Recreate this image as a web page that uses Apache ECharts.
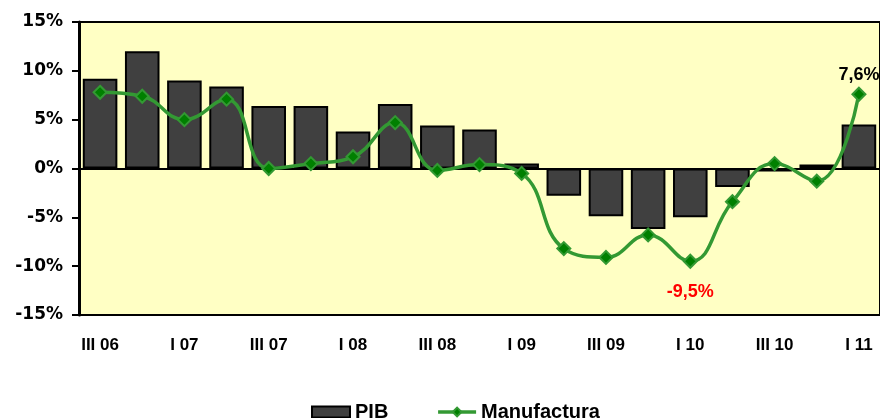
<!DOCTYPE html>
<html>
<head>
<meta charset="utf-8">
<script src="https://cdn.jsdelivr.net/npm/echarts@6/dist/echarts.min.js"></script>
<style>html,body{margin:0;padding:0;background:#fff}#c{width:880px;height:418px}</style>
</head>
<body>
<div id="c"></div>
<script>
var categories = ['III 06','IV 06','I 07','II 07','III 07','IV 07','I 08','II 08','III 08','IV 08','I 09','II 09','III 09','IV 09','I 10','II 10','III 10','IV 10','I 11'];
var pib = [9.2, 12.0, 9.0, 8.4, 6.4, 6.4, 3.8, 6.6, 4.4, 4.0, 0.5, -2.8, -4.9, -6.2, -5.0, -1.9, -0.3, 0.4, 4.5];
var manufactura = [7.8, 7.4, 5.0, 7.1, 0.0, 0.5, 1.2, 4.7, -0.2, 0.4, -0.5, -8.2, -9.1, -6.8, -9.5, -3.4, 0.5, -1.3, 7.6];
var yTicks = [-15, -10, -5, 0, 5, 10, 15];

var chart = echarts.init(document.getElementById('c'));
function fmt(p) { return String(p.value).replace('.', ',') + '%'; }
var minVal = Math.min.apply(null, manufactura);
var lineData = manufactura.map(function (v, i) {
  var d = { value: v };
  if (i === manufactura.length - 1) {
    d.label = { show: true, position: 'top', distance: 3, color: '#000', formatter: fmt };
  }
  if (v === minVal) {
    d.label = { show: true, position: 'bottom', distance: 14, color: '#ff0000', formatter: fmt };
  }
  return d;
});

chart.setOption({
  animation: false,
  textStyle: { fontFamily: 'Liberation Sans, Arial, sans-serif' },
  grid: {
    left: 79, right: -8, top: 22, bottom: 103,
    show: true, backgroundColor: '#ffffc4', borderColor: '#000', borderWidth: 2,
    containLabel: false
  },
  legend: {
    left: 306, top: 397,
    itemWidth: 38, itemHeight: 11, itemGap: 48,
    textStyle: { fontSize: 20, fontWeight: 'bold', color: '#000', fontFamily: 'Liberation Sans, Arial, sans-serif' },
    data: [
      { name: 'PIB', icon: 'rect' },
      { name: 'Manufactura', lineStyle: { width: 3.5 } }
    ]
  },
  xAxis: {
    type: 'category',
    data: categories,
    position: 'bottom',
    axisLine: { show: true, onZero: false, lineStyle: { color: '#000', width: 2 } },
    axisTick: { show: false },
    axisLabel: {
      interval: 1, margin: 22, fontSize: 17, fontWeight: 'bold', color: '#000',
      fontFamily: 'Liberation Sans, Arial, sans-serif', hideOverlap: false
    },
    splitLine: { show: false }
  },
  yAxis: {
    type: 'value',
    min: -15, max: 15, interval: 5,
    axisLine: { show: true, lineStyle: { color: '#000', width: 3 } },
    axisTick: { show: true, length: 7, lineStyle: { color: '#000', width: 2 } },
    axisLabel: {
      margin: 16, fontSize: 17, fontWeight: 'bold', color: '#000',
      fontFamily: 'DejaVu Sans, sans-serif',
      formatter: function (v) { return yTicks.indexOf(v) >= 0 ? v + '%' : ''; }
    },
    splitLine: { show: false }
  },
  series: [
    {
      name: 'PIB',
      type: 'bar',
      data: pib,
      barCategoryGap: '18%',
      itemStyle: { color: '#404040', borderColor: '#000', borderWidth: 2 },
      markLine: {
        silent: true, symbol: 'none', label: { show: false },
        lineStyle: { color: '#000', width: 2, type: 'solid' },
        data: [{ yAxis: 0 }]
      },
      z: 2
    },
    {
      name: 'Manufactura',
      type: 'line',
      data: lineData,
      smooth: 0.45,
      symbol: 'diamond',
      symbolSize: 13,
      lineStyle: { color: '#339933', width: 3.5 },
      itemStyle: { color: '#008000', borderColor: '#339933', borderWidth: 2 },
      label: { show: false, fontSize: 18, fontWeight: 'bold', fontFamily: 'Liberation Sans, Arial, sans-serif' },
      z: 5
    }
  ]
});
</script>
</body>
</html>
